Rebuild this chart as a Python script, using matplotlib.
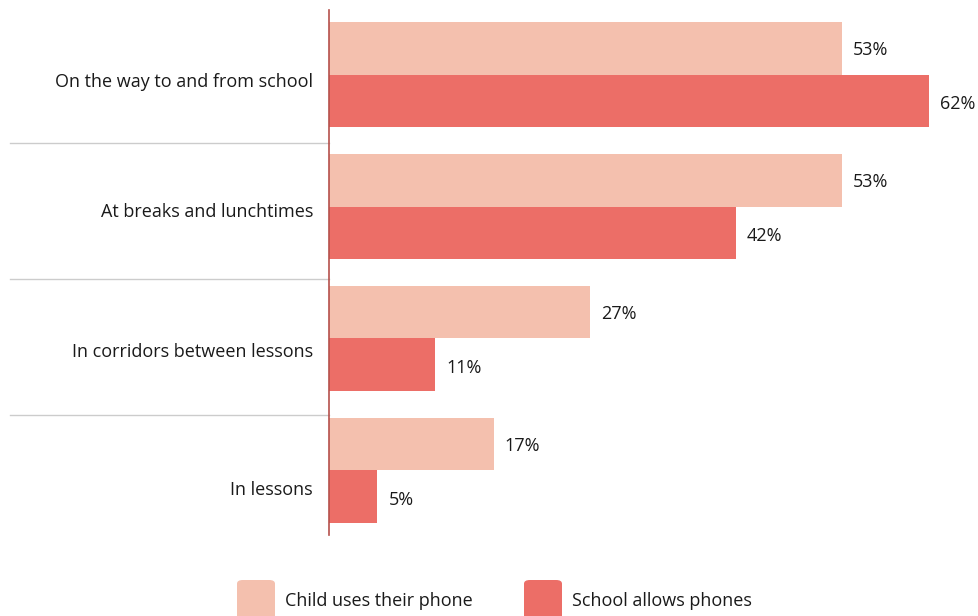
import matplotlib
matplotlib.use("Agg")
import matplotlib.pyplot as plt
from matplotlib.patches import FancyBboxPatch

categories = ["On the way to and from school", "At breaks and lunchtimes",
              "In corridors between lessons", "In lessons"]
child_uses = [53, 53, 27, 17]
school_allows = [62, 42, 11, 5]
series_names = ["Child uses their phone", "School allows phones"]

LIGHT = "#F4C0AE"
DARK = "#EC6E67"
FONT = ["Open Sans", "DejaVu Sans"]
plt.rcParams['font.family'] = FONT
FS = 13
TXT = "#1A1A1A"

W, H = 979, 616
fig = plt.figure(figsize=(W / 100, H / 100), dpi=100)
ax = fig.add_axes([329 / W, 1 - 535 / H, 650 / W, 525 / H])
PX = 131.9  # pixels per category unit

bh = 0.4
pos = list(range(len(categories)))
ax.barh([p - bh / 2 for p in pos], child_uses, height=bh, color=LIGHT, zorder=2)
ax.barh([p + bh / 2 for p in pos], school_allows, height=bh, color=DARK, zorder=2)

ax.set_xlim(0, 650 / 9.68)
ax.set_ylim(len(categories) - 0.51, -0.49)

for p, v in zip(pos, child_uses):
    ax.text(v + 1.15, p - bh / 2 + 2 / PX, f"{v}%", va="center", ha="left", fontsize=FS, color=TXT)
for p, v in zip(pos, school_allows):
    ax.text(v + 1.15, p + bh / 2 + 3 / PX, f"{v}%", va="center", ha="left", fontsize=FS, color=TXT)

label_shift = [5, 3, 12, 18]
ax.set_yticks([p + s / PX for p, s in zip(pos, label_shift)])
ax.set_yticklabels(categories, fontsize=FS, color=TXT)
ax.tick_params(axis="y", length=0, pad=11.5)
ax.set_xticks([])
for s in ["top", "right", "bottom"]:
    ax.spines[s].set_visible(False)
ax.spines["left"].set_color("#B5504B")
ax.spines["left"].set_linewidth(1.2)

# separators between groups
for p in pos[:-1]:
    yy = p + 0.52 + 0.03 * p
    ax.plot([-319 / 9.68, 0], [yy, yy], color="#CCCCCC", lw=1, clip_on=False, zorder=1)

# legend
for x0, col, name in [(237, LIGHT, series_names[0]), (524, DARK, series_names[1])]:
    patch = FancyBboxPatch((x0 / W, 1 - 625 / H), 38 / W, 45 / H,
                           boxstyle="round,pad=0,rounding_size=0.006",
                           transform=fig.transFigure, facecolor=col, edgecolor="none")
    fig.add_artist(patch)
    fig.text((x0 + 48) / W, 1 - 601 / H, name, fontsize=FS, va="center", ha="left", color=TXT)

fig.savefig("out.png", dpi=100)
